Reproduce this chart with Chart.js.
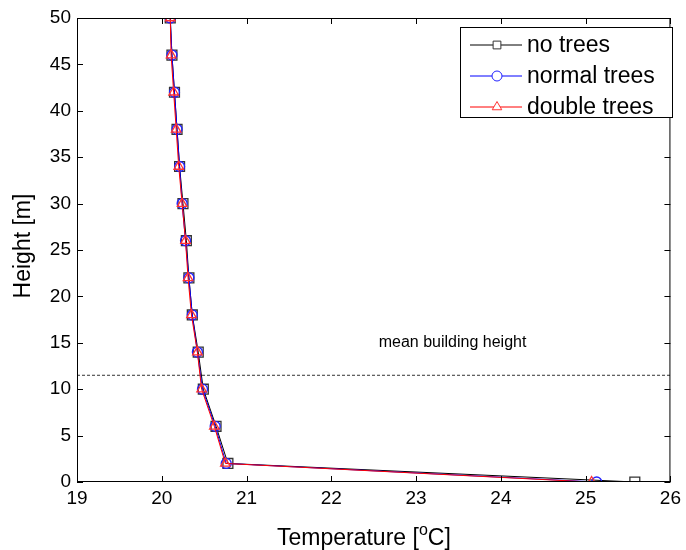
<!DOCTYPE html>
<html>
<head>
<meta charset="utf-8">
<script src="https://cdn.jsdelivr.net/npm/chart.js@4.4.1/dist/chart.umd.min.js"></script>
<style>
  html, body { margin: 0; padding: 0; background: #fff; }
  #wrap { width: 686px; height: 550px; }
</style>
</head>
<body>
<div id="wrap"><canvas id="profileChart" width="686" height="550"></canvas></div>
<script>
// heights (m) where temperature is sampled
const heights = [0, 2, 6, 10, 14, 18, 22, 26, 30, 34, 38, 42, 46, 50];

// temperature profiles (deg C)
const noTrees     = [25.58, 20.78, 20.64, 20.49, 20.43, 20.36, 20.32, 20.29, 20.25, 20.21, 20.18, 20.15, 20.12, 20.10];
const normalTrees = [25.13, 20.76, 20.63, 20.48, 20.42, 20.36, 20.32, 20.28, 20.24, 20.21, 20.18, 20.15, 20.12, 20.10];
const doubleTrees = [25.07, 20.75, 20.62, 20.47, 20.42, 20.35, 20.31, 20.28, 20.24, 20.20, 20.17, 20.14, 20.11, 20.10];

const xTicks = [19, 20, 21, 22, 23, 24, 25, 26];
const yTicks = [0, 5, 10, 15, 20, 25, 30, 35, 40, 45, 50];

const meanBuildingHeight = 11.5;
const seriesLabels = ['no trees', 'normal trees', 'double trees'];

const FONT = '"Liberation Sans", Arial, Helvetica, sans-serif';

function toPoints(temps) {
  return temps.map((t, i) => ({ x: t, y: heights[i] }));
}

// MATLAB-like box, inward ticks, legend, annotation and axis titles
const matlabStyle = {
  id: 'matlabStyle',
  afterDraw(chart) {
    const ctx = chart.ctx;
    const a = chart.chartArea;
    const xs = chart.scales.x, ys = chart.scales.y;
    ctx.save();

    // box
    ctx.strokeStyle = '#000';
    ctx.lineWidth = 1;
    ctx.strokeRect(a.left + 0.5, a.top + 0.5, a.right - a.left - 1, a.bottom - a.top - 1);

    // inward ticks on all four sides
    const tl = 6;
    ctx.beginPath();
    xTicks.forEach(v => {
      const px = Math.round(xs.getPixelForValue(v)) + 0.5;
      ctx.moveTo(px, a.bottom); ctx.lineTo(px, a.bottom - tl);
      ctx.moveTo(px, a.top); ctx.lineTo(px, a.top + tl);
    });
    yTicks.forEach(v => {
      const py = Math.round(ys.getPixelForValue(v)) + 0.5;
      ctx.moveTo(a.left, py); ctx.lineTo(a.left + tl, py);
      ctx.moveTo(a.right, py); ctx.lineTo(a.right - tl, py);
    });
    ctx.stroke();

    // annotation text
    ctx.fillStyle = '#000';
    ctx.font = '16px ' + FONT;
    ctx.textAlign = 'center';
    ctx.textBaseline = 'alphabetic';
    ctx.fillText('mean building height', xs.getPixelForValue(23.43), 347);

    // y axis title
    ctx.save();
    ctx.translate(30, 246);
    ctx.rotate(-Math.PI / 2);
    ctx.font = '23px ' + FONT;
    ctx.textAlign = 'center';
    ctx.textBaseline = 'alphabetic';
    ctx.fillText('Height [m]', 0, 0);
    ctx.restore();

    // x axis title with superscript o
    const mainFont = '23px ' + FONT, supFont = '16px ' + FONT;
    const p1 = 'Temperature [', p3 = 'C]';
    ctx.font = mainFont;
    const w1 = ctx.measureText(p1).width, w3 = ctx.measureText(p3).width;
    ctx.font = supFont;
    const w2 = ctx.measureText('o').width;
    let x0 = 277;
    const yb = 545;
    ctx.textAlign = 'left';
    ctx.textBaseline = 'alphabetic';
    ctx.font = mainFont;
    ctx.fillText(p1, x0, yb);
    ctx.font = supFont;
    ctx.fillText('o', x0 + w1, yb - 10);
    ctx.font = mainFont;
    ctx.fillText(p3, x0 + w1 + w2, yb);

    // legend box
    const lx = 460, ly = 27, lw = 212, lh = 90;
    ctx.fillStyle = '#fff';
    ctx.fillRect(lx, ly, lw, lh);
    ctx.strokeStyle = '#000';
    ctx.strokeRect(lx + 0.5, ly + 0.5, lw, lh);
    const sets = chart.data.datasets.slice(0, 3);
    sets.forEach((ds, i) => {
      const cy = ly + 18 + i * 31;
      ctx.strokeStyle = ds.borderColor;
      ctx.lineWidth = 1;
      ctx.beginPath();
      ctx.moveTo(lx + 10, cy); ctx.lineTo(lx + 62, cy);
      ctx.stroke();
      ctx.fillStyle = '#fff';
      ctx.strokeStyle = ds.pointBorderColor;
      Chart.helpers.drawPoint(ctx, { pointStyle: ds.pointStyle, radius: ds.pointRadius - (ds.pointStyle === 'rect' ? 1.5 : 0), borderWidth: 1, rotation: 0 }, lx + 37, cy);
      ctx.fillStyle = '#000';
      ctx.font = '23px ' + FONT;
      ctx.textAlign = 'left';
      ctx.textBaseline = 'middle';
      ctx.fillText(ds.label, lx + 67, cy + 1);
    });

    ctx.restore();
  }
};

const ctx = document.getElementById('profileChart').getContext('2d');

new Chart(ctx, {
  type: 'scatter',
  data: {
    datasets: [
      {
        label: seriesLabels[0],
        data: toPoints(noTrees),
        order: 2,
        showLine: true,
        borderColor: '#000000',
        backgroundColor: 'rgba(0,0,0,0)',
        borderWidth: 1,
        pointStyle: 'rect',
        pointRadius: 7,
        pointBorderWidth: 1.3,
        pointBackgroundColor: 'rgba(0,0,0,0)',
        pointBorderColor: '#333'
      },
      {
        label: seriesLabels[1],
        data: toPoints(normalTrees),
        order: 1,
        showLine: true,
        borderColor: '#0000ff',
        backgroundColor: 'rgba(0,0,0,0)',
        borderWidth: 1,
        pointStyle: 'circle',
        pointRadius: 5,
        pointBorderWidth: 1.3,
        pointBackgroundColor: 'rgba(0,0,0,0)',
        pointBorderColor: '#2222ff'
      },
      {
        label: seriesLabels[2],
        data: toPoints(doubleTrees),
        order: 0,
        showLine: true,
        borderColor: '#ff0000',
        backgroundColor: 'rgba(0,0,0,0)',
        borderWidth: 1,
        pointStyle: 'triangle',
        pointRadius: 5.5,
        pointBorderWidth: 1.3,
        pointBackgroundColor: 'rgba(0,0,0,0)',
        pointBorderColor: '#ff3333'
      },
      {
        label: 'mean building height',
        data: [{ x: 19, y: meanBuildingHeight }, { x: 26, y: meanBuildingHeight }],
        order: 3,
        showLine: true,
        borderColor: '#333',
        borderWidth: 1,
        borderDash: [3, 2],
        pointRadius: 0
      }
    ]
  },
  options: {
    responsive: false,
    animation: false,
    devicePixelRatio: 1,
    layout: { padding: { top: 18, right: 13, left: 0, bottom: 0 } },
    plugins: {
      legend: { display: false },
      tooltip: { enabled: false }
    },
    scales: {
      x: {
        type: 'linear',
        min: 19,
        max: 26,
        afterFit(scale) { scale.height = 68; },
        afterBuildTicks(scale) { scale.ticks = xTicks.map(v => ({ value: v })); },
        grid: { display: false, drawTicks: false },
        border: { display: false },
        ticks: {
          color: '#000',
          padding: 5,
          font: { family: FONT, size: 19 }
        }
      },
      y: {
        type: 'linear',
        min: 0,
        max: 50,
        afterFit(scale) { scale.width = 77; },
        afterBuildTicks(scale) { scale.ticks = yTicks.map(v => ({ value: v })); },
        grid: { display: false, drawTicks: false },
        border: { display: false },
        ticks: {
          color: '#000',
          padding: 6,
          font: { family: FONT, size: 19 }
        }
      }
    }
  },
  plugins: [matlabStyle]
});
</script>
</body>
</html>
